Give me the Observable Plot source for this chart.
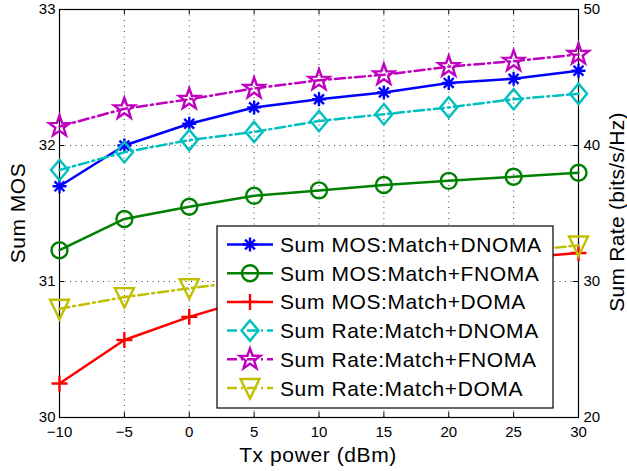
<!DOCTYPE html>
<html><head><meta charset="utf-8">
<script src="https://cdn.jsdelivr.net/npm/d3@7"></script>
<script src="https://cdn.jsdelivr.net/npm/@observablehq/plot@0.6"></script>
<style>body{margin:0;background:#fff;} svg{display:block;}</style>
</head><body><div id="chart"></div>
<script>
// ---- data ----
const txPower = [-10, -5, 0, 5, 10, 15, 20, 25, 30];
const mosDNOMA = [31.70, 32.00, 32.16, 32.28, 32.34, 32.39, 32.46, 32.49, 32.55];
const mosFNOMA = [31.23, 31.46, 31.55, 31.63, 31.67, 31.71, 31.74, 31.77, 31.80];
const mosDOMA  = [30.25, 30.57, 30.74, 30.88, 30.98, 31.05, 31.12, 31.17, 31.21];
const rateDNOMA = [38.2, 39.5, 40.4, 41.0, 41.8, 42.3, 42.8, 43.4, 43.8];
const rateFNOMA = [41.4, 42.7, 43.4, 44.2, 44.8, 45.2, 45.8, 46.2, 46.7];
const rateDOMA  = [28.0, 28.85, 29.5, 30.1, 30.7, 31.2, 31.7, 32.2, 32.65];
const xTicks = [-10, -5, 0, 5, 10, 15, 20, 25, 30];
const leftTicks = [30, 31, 32, 33];
const rightTicks = [20, 30, 40, 50];
const seriesNames = [
  "Sum MOS:Match+DNOMA", "Sum MOS:Match+FNOMA", "Sum MOS:Match+DOMA",
  "Sum Rate:Match+DNOMA", "Sum Rate:Match+FNOMA", "Sum Rate:Match+DOMA"
];

// ---- right axis (rate) mapped onto the left (MOS) scale ----
const rateToMos = d3.scaleLinear().domain([20, 50]).range([30, 33]);

// ---- MATLAB-like marker symbols ----
const sym = f => ({draw(c, size) { f(c, Math.sqrt(size / Math.PI)); }});
const asterisk = sym((c, r) => {
  for (let k = 0; k < 4; k++) {
    const a = k * Math.PI / 4;
    c.moveTo(r * Math.cos(a), r * Math.sin(a));
    c.lineTo(-r * Math.cos(a), -r * Math.sin(a));
  }
});
const circle = sym((c, r) => { c.moveTo(r, 0); c.arc(0, 0, r, 0, 2 * Math.PI); });
const plus = sym((c, r) => { c.moveTo(-r, 0); c.lineTo(r, 0); c.moveTo(0, -r); c.lineTo(0, r); });
const diamond = sym((c, r) => {
  c.moveTo(0, -1.2 * r); c.lineTo(r, 0); c.lineTo(0, 1.2 * r); c.lineTo(-r, 0); c.closePath();
});
const star = sym((c, r) => {
  for (let k = 0; k < 10; k++) {
    const a = -Math.PI / 2 + k * Math.PI / 5;
    const rr = k % 2 ? r * 0.4 : r;
    k ? c.lineTo(rr * Math.cos(a), rr * Math.sin(a)) : c.moveTo(rr * Math.cos(a), rr * Math.sin(a));
  }
  c.closePath();
});
const triDown = sym((c, r) => {
  c.moveTo(-r, -0.95 * r); c.lineTo(r, -0.95 * r); c.lineTo(0, 1.1 * r); c.closePath();
});

const series = [
  {name: seriesNames[0], values: mosDNOMA, map: v => v, color: "#0000ff", symbol: asterisk, r: 7, dash: null},
  {name: seriesNames[1], values: mosFNOMA, map: v => v, color: "#008000", symbol: circle, r: 8, dash: null},
  {name: seriesNames[2], values: mosDOMA, map: v => v, color: "#ff0000", symbol: plus, r: 8, dash: null},
  {name: seriesNames[3], values: rateDNOMA, map: rateToMos, color: "#00bfbf", symbol: diamond, r: 8.5, dash: "10,4,2,4"},
  {name: seriesNames[4], values: rateFNOMA, map: rateToMos, color: "#bf00bf", symbol: star, r: 11, dash: "10,4,2,4"},
  {name: seriesNames[5], values: rateDOMA, map: rateToMos, color: "#bfbf00", symbol: triDown, r: 9.5, dash: "10,4,2,4"}
];

const W = 627, H = 471, mT = 9, mB = 54, mL = 59, mR = 49;
const innerH = H - mT - mB, innerW = W - mL - mR;
const fmt = d => d < 0 ? "\u2212" + (-d) : String(d);

const marks = [
  Plot.ruleX(xTicks.slice(1, -1), {stroke: "#444", strokeWidth: 1, strokeDasharray: "1,4.5"}),
  Plot.ruleY(leftTicks.slice(1, -1), {stroke: "#444", strokeWidth: 1, strokeDasharray: "1,4.5"}),
  Plot.frame({stroke: "#000", strokeWidth: 1.2}),
  Plot.ruleX(xTicks, {insetTop: innerH - 5, stroke: "#000"}),
  Plot.ruleX(xTicks, {insetBottom: innerH - 5, stroke: "#000"}),
  Plot.ruleY(leftTicks, {insetRight: innerW - 5, stroke: "#000"}),
  Plot.ruleY(rightTicks.map(rateToMos), {insetLeft: innerW - 5, stroke: "#000"}),
  Plot.text(rightTicks, {y: d => rateToMos(d), text: d => String(d), frameAnchor: "right", dx: 5, textAnchor: "start", fontSize: 15})
];
for (const s of series) {
  const rows = txPower.map((x, i) => ({x, y: s.map(s.values[i])}));
  marks.push(Plot.line(rows, {x: "x", y: "y", stroke: s.color, strokeWidth: 2.5, strokeDasharray: s.dash}));
  marks.push(Plot.dot(rows, {x: "x", y: "y", stroke: s.color, strokeWidth: 2.4, fill: "none", symbol: s.symbol, r: s.r}));
}

const chart = Plot.plot({
  width: W, height: H,
  marginTop: mT, marginBottom: mB, marginLeft: mL, marginRight: mR,
  style: {fontFamily: "'Liberation Sans', Arial, sans-serif", fontSize: "15px", color: "#000", background: "#fff", overflow: "visible"},
  x: {domain: [-10, 30], ticks: xTicks, tickFormat: fmt, tickSize: 0, tickPadding: 9, label: null},
  y: {domain: [30, 33], ticks: leftTicks, tickFormat: d => String(d), tickSize: 0, tickPadding: 4, label: null},
  marks
});
document.getElementById("chart").appendChild(chart);

// ---- axis titles & legend ----
const svg = d3.select(chart);
svg.selectAll("g[aria-label*='axis'], g[aria-label*='axis'] text").style("font-size", "15px");
const font = "'Liberation Sans', Arial, sans-serif";
function addText(sel, str, size, spacing, anchor) {
  return sel.append("text").attr("text-anchor", anchor)
    .style("font-size", size + "px").style("letter-spacing", spacing + "px")
    .style("font-family", font).attr("fill", "#000").text(str);
}
addText(svg, "Tx power (dBm)", 21, 0.6, "middle").attr("transform", "translate(318,462)");
addText(svg, "Sum MOS", 21, 0.5, "middle").attr("transform", "translate(25,213) rotate(-90)");
addText(svg, "Sum Rate (bits/s/Hz)", 21, 0.3, "middle").attr("transform", "translate(624,212) rotate(-90)");

const lg = svg.append("g");
lg.append("rect").attr("x", 217).attr("y", 226).attr("width", 336).attr("height", 182)
  .attr("fill", "#fff").attr("stroke", "#000").attr("stroke-width", 1.2);
series.forEach((s, i) => {
  const y = 244.5 + i * 28.7;
  lg.append("line").attr("x1", 227).attr("x2", 273).attr("y1", y).attr("y2", y)
    .attr("stroke", s.color).attr("stroke-width", 2.5).attr("stroke-dasharray", s.dash);
  lg.append("path").attr("transform", `translate(250,${y})`)
    .attr("d", d3.symbol(s.symbol, s.r * s.r * Math.PI)())
    .attr("fill", "none").attr("stroke", s.color).attr("stroke-width", 2.4);
  addText(lg, s.name, 21, 0.6, "start").attr("x", 280).attr("y", y).attr("dy", "0.36em");
});
</script>
</body></html>
